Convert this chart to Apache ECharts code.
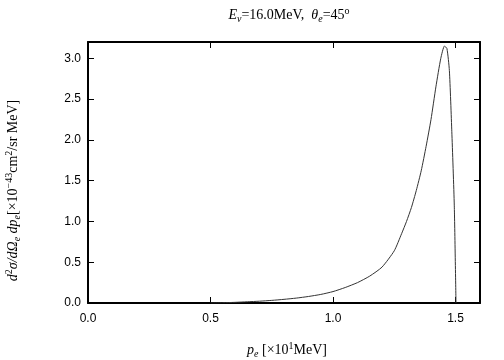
<!DOCTYPE html>
<html>
<head>
<meta charset="utf-8">
<script src="https://cdn.jsdelivr.net/npm/echarts@6/dist/echarts.min.js"></script>
<style>
  html, body { margin: 0; padding: 0; background: #fff; }
  #chart { width: 504px; height: 360px; }
</style>
</head>
<body>
<div id="chart"></div>
<script>
// momentum p_e [x10 MeV] and cross section [x10^-43 cm^2/sr MeV]
var pe = [0.50, 0.55, 0.60, 0.65, 0.70, 0.75, 0.80, 0.85, 0.90, 0.95,
          1.00, 1.05, 1.10, 1.15, 1.20, 1.25, 1.28, 1.30, 1.32, 1.34,
          1.36, 1.38, 1.40, 1.42, 1.44, 1.455, 1.465, 1.475, 1.485, 1.495, 1.502];
var sigma = [0.0, 0.003, 0.008, 0.015, 0.022, 0.032, 0.045, 0.06, 0.08, 0.105,
             0.14, 0.19, 0.25, 0.33, 0.44, 0.64, 0.85, 1.0, 1.17, 1.38,
             1.62, 1.92, 2.25, 2.65, 3.0, 3.15, 3.12, 2.85, 2.1, 1.2, 0.0];
var xTicks = [0, 0.5, 1.0, 1.5];
var yTicks = [0, 0.5, 1.0, 1.5, 2.0, 2.5, 3.0];

var points = [];
for (var i = 0; i < pe.length; i++) {
  points.push([pe[i], sigma[i]]);
}

function onTick(list) {
  return function (v) {
    for (var k = 0; k < list.length; k++) {
      if (Math.abs(list[k] - v) < 1e-6) return v.toFixed(1);
    }
    return '';
  };
}

var chart = echarts.init(document.getElementById('chart'));

var frameLine = { show: true, onZero: false, lineStyle: { color: '#000', width: 2 } };
var tickIn = { show: true, inside: true, length: 6, lineStyle: { color: '#000', width: 1 } };
var serif = 'Liberation Serif';

var nameRich = {
  i: { fontFamily: serif, fontStyle: 'italic', fontSize: 14, color: '#000' },
  n: { fontFamily: serif, fontSize: 14, color: '#000' },
  s: { fontFamily: serif, fontStyle: 'italic', fontSize: 10, color: '#000', verticalAlign: 'bottom', padding: [7, 0, 0, 0] },
  u: { fontFamily: serif, fontSize: 10, color: '#000', verticalAlign: 'top', padding: [0, 0, 8, 0] }
};

var option = {
  animation: false,
  title: {
    text: '{i|E}{s|ν}{n|=16.0MeV,  }{i|θ}{s|e}{n|=45}{u|o}',
    left: 284,
    top: 1,
    textAlign: 'center',
    textStyle: { fontWeight: 'normal', rich: nameRich }
  },
  grid: { left: 88, right: 24, top: 42, bottom: 57, outerBoundsMode: 'none' },
  xAxis: [{
    type: 'value',
    min: 0,
    max: 1.6,
    interval: 0.5,
    axisLine: frameLine,
    axisTick: tickIn,
    splitLine: { show: false },
    axisLabel: {
      color: '#000',
      fontFamily: 'Liberation Sans',
      fontSize: 12,
      margin: 10,
      formatter: onTick(xTicks)
    },
    name: '{i|p}{s|e}{n| [×10}{u|1}{n|MeV]}',
    nameLocation: 'middle',
    nameGap: 38,
    nameTextStyle: { rich: nameRich, padding: [0, 0, 0, 6] }
  }, {
    type: 'value',
    position: 'top',
    min: 0,
    max: 1.6,
    interval: 0.5,
    axisLine: frameLine,
    axisTick: tickIn,
    axisLabel: { show: false },
    splitLine: { show: false }
  }],
  yAxis: [{
    type: 'value',
    min: 0,
    max: 3.2,
    interval: 0.5,
    axisLine: frameLine,
    axisTick: tickIn,
    splitLine: { show: false },
    axisLabel: {
      color: '#000',
      fontFamily: 'Liberation Sans',
      fontSize: 12,
      margin: 7,
      formatter: onTick(yTicks)
    },
    name: '{i|d}{u|2}{i|σ/dΩ}{s|e}{i| dp}{s|e}{n|[×10}{u|−43}{n|cm}{u|2}{n|/sr MeV]}',
    nameLocation: 'middle',
    nameGap: 66,
    nameTextStyle: { rich: nameRich, padding: [0, 36, 0, 0] }
  }, {
    type: 'value',
    position: 'right',
    min: 0,
    max: 3.2,
    interval: 0.5,
    axisLine: frameLine,
    axisTick: tickIn,
    axisLabel: { show: false },
    splitLine: { show: false }
  }],
  series: [{
    type: 'line',
    xAxisIndex: 0,
    yAxisIndex: 0,
    data: points,
    showSymbol: false,
    smooth: 0.2,
    lineStyle: { color: '#333', width: 1 }
  }]
};

chart.setOption(option);
</script>
</body>
</html>
